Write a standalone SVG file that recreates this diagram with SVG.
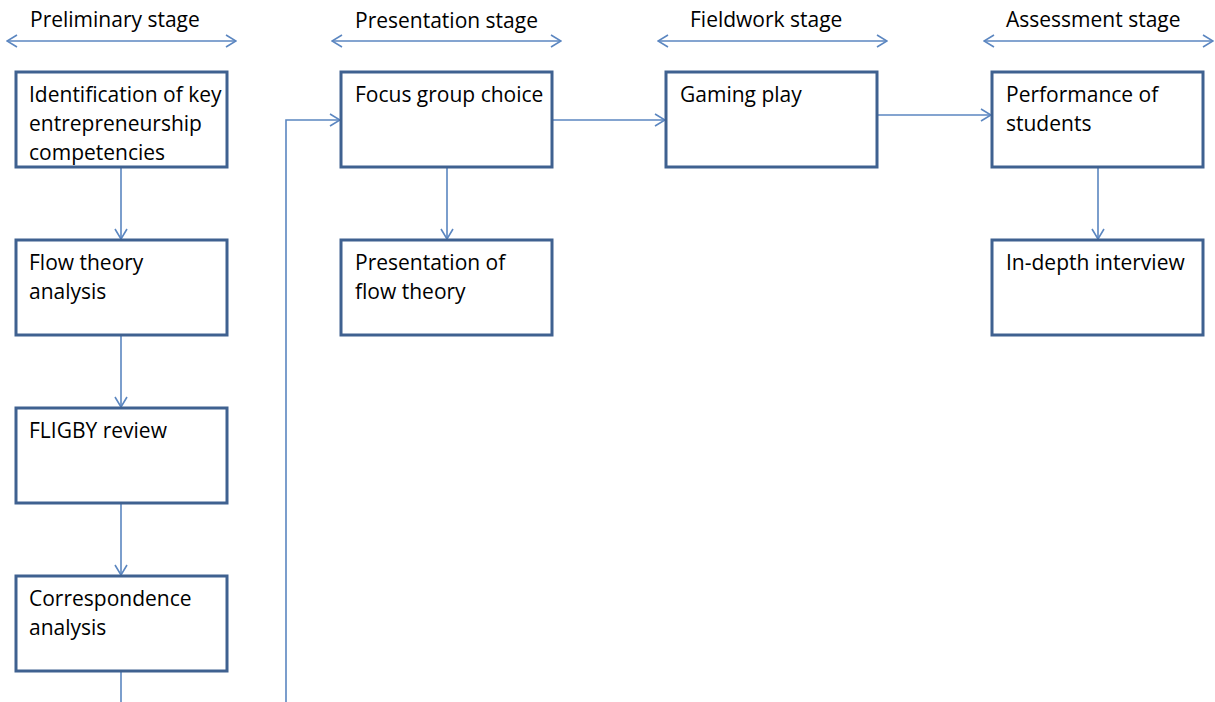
<svg xmlns="http://www.w3.org/2000/svg" width="1215" height="702" viewBox="0 0 1215 702">
<defs>
<marker id="ah" markerWidth="12" markerHeight="14" refX="11" refY="7" orient="auto" markerUnits="userSpaceOnUse">
<path d="M1,1 L11,7 L1,13" fill="none" stroke="#5b86c0" stroke-width="1.6"/>
</marker>
<marker id="as" markerWidth="12" markerHeight="14" refX="1" refY="7" orient="auto" markerUnits="userSpaceOnUse">
<path d="M11,1 L1,7 L11,13" fill="none" stroke="#5b86c0" stroke-width="1.6"/>
</marker>
<style>
.box{fill:#fff;stroke:#3f6190;stroke-width:3}
.t{font-family:"Open Sans","Liberation Sans",Arial,sans-serif;font-size:21px;fill:#000}
.c{fill:none;stroke:#5b86c0;stroke-width:1.6}
</style>
</defs>
<rect width="1215" height="702" fill="#fff"/>
<g id="headers">
<text class="t" x="30" y="27">Preliminary stage</text>
<text class="t" x="355" y="28">Presentation stage</text>
<text class="t" x="690" y="27">Fieldwork stage</text>
<text class="t" x="1006" y="27">Assessment stage</text>
<line class="c" x1="7" y1="41" x2="236" y2="41" marker-start="url(#as)" marker-end="url(#ah)"/>
<line class="c" x1="332" y1="41" x2="561" y2="41" marker-start="url(#as)" marker-end="url(#ah)"/>
<line class="c" x1="658" y1="41" x2="887" y2="41" marker-start="url(#as)" marker-end="url(#ah)"/>
<line class="c" x1="984" y1="41" x2="1213" y2="41" marker-start="url(#as)" marker-end="url(#ah)"/>
</g>
<g id="connectors">
<line class="c" x1="121" y1="168" x2="121" y2="239" marker-end="url(#ah)"/>
<line class="c" x1="121" y1="336" x2="121" y2="407" marker-end="url(#ah)"/>
<line class="c" x1="121" y1="504" x2="121" y2="575" marker-end="url(#ah)"/>
<line class="c" x1="121" y1="672" x2="121" y2="702"/>
<polyline class="c" points="286,702 286,120 340,120" marker-end="url(#ah)"/>
<line class="c" x1="553" y1="120" x2="665" y2="120" marker-end="url(#ah)"/>
<line class="c" x1="878" y1="115" x2="991" y2="115" marker-end="url(#ah)"/>
<line class="c" x1="447" y1="168" x2="447" y2="239" marker-end="url(#ah)"/>
<line class="c" x1="1098" y1="168" x2="1098" y2="239" marker-end="url(#ah)"/>
</g>
<g id="n1"><rect class="box" x="16" y="72" width="211" height="95"/>
<text class="t" x="29" y="102">Identification of key</text><text class="t" x="29" y="131">entrepreneurship</text><text class="t" x="29" y="160">competencies</text></g>
<g id="n2"><rect class="box" x="16" y="240" width="211" height="95"/>
<text class="t" x="29" y="270">Flow theory</text><text class="t" x="29" y="299">analysis</text></g>
<g id="n3"><rect class="box" x="16" y="408" width="211" height="95"/>
<text class="t" x="29" y="438">FLIGBY review</text></g>
<g id="n4"><rect class="box" x="16" y="576" width="211" height="95"/>
<text class="t" x="29" y="606">Correspondence</text><text class="t" x="29" y="635">analysis</text></g>
<g id="n5"><rect class="box" x="341" y="72" width="211" height="95"/>
<text class="t" x="355" y="102">Focus group choice</text></g>
<g id="n6"><rect class="box" x="341" y="240" width="211" height="95"/>
<text class="t" x="355" y="270">Presentation of</text><text class="t" x="355" y="299">flow theory</text></g>
<g id="n7"><rect class="box" x="666" y="72" width="211" height="95"/>
<text class="t" x="680" y="102">Gaming play</text></g>
<g id="n8"><rect class="box" x="992" y="72" width="211" height="95"/>
<text class="t" x="1006" y="102">Performance of</text><text class="t" x="1006" y="131">students</text></g>
<g id="n9"><rect class="box" x="992" y="240" width="211" height="95"/>
<text class="t" x="1006" y="270">In-depth interview</text></g>
</svg>
